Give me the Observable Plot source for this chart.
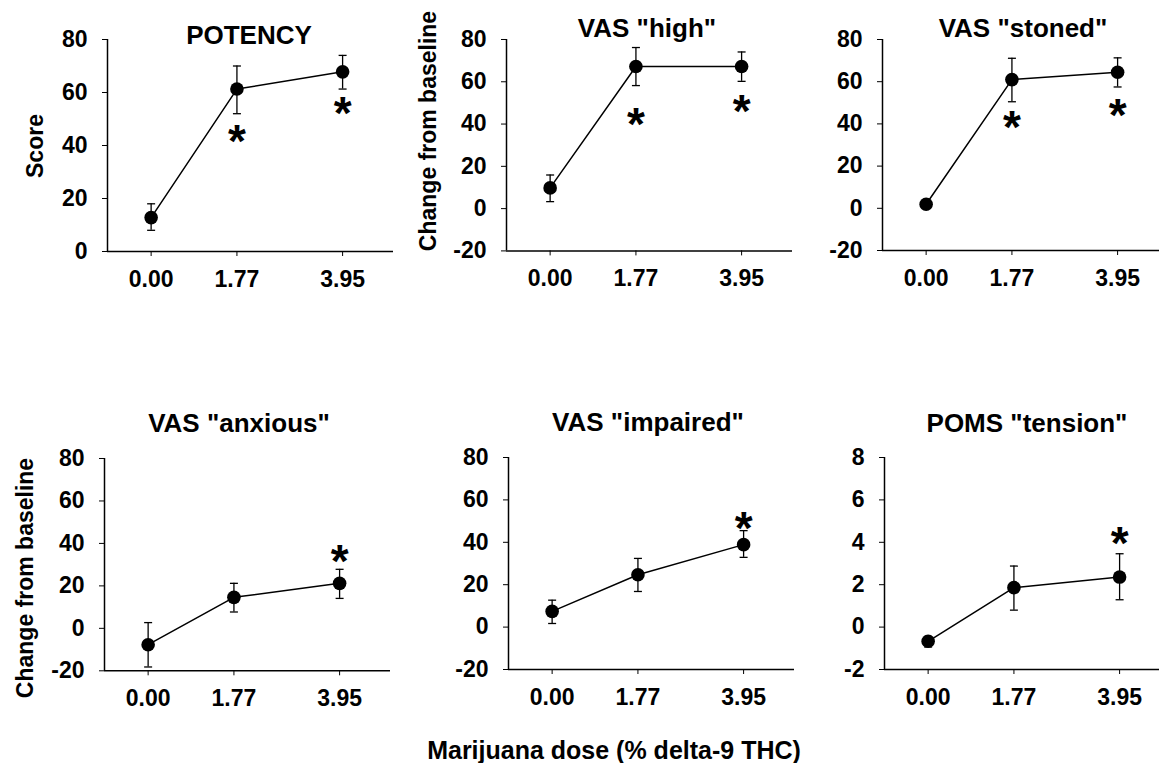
<!DOCTYPE html>
<html>
<head>
<meta charset="utf-8">
<script src="https://cdn.jsdelivr.net/npm/d3@7"></script>
<script src="https://cdn.jsdelivr.net/npm/@observablehq/plot@0.6"></script>
<style>
  html, body { margin: 0; padding: 0; background: #fff; }
  #root { position: relative; width: 1159px; height: 763px; overflow: hidden; background: #fff;
          font-family: "Liberation Sans", Arial, Helvetica, sans-serif; font-weight: bold; color: #000; }
  .panel { position: absolute; }
  .lbl { position: absolute; white-space: nowrap; line-height: 1; }
</style>
</head>
<body>
<div id="root"></div>
<script>
// ---- data ----
const doses = [0, 1.77, 3.95];
const doseLabels = ["0.00", "1.77", "3.95"];

const titles = ["POTENCY", 'VAS "high"', 'VAS "stoned"', 'VAS "anxious"', 'VAS "impaired"', 'POMS "tension"'];
const yLabels = ["Score", "Change from baseline", "", "Change from baseline", "", ""];
const xLabel = "Marijuana dose (% delta-9 THC)";

const potencyMean = [12.8, 61.3, 67.8];
const potencyLo   = [8.0, 52.0, 61.3];
const potencyHi   = [18.0, 70.0, 74.0];
const potencyStar = [null, 45.5, 56.0];

const highMean = [9.8, 67.2, 67.2];
const highLo   = [3.3, 58.2, 60.2];
const highHi   = [15.9, 76.2, 74.1];
const highStar = [null, 44.6, 50.9];

const stonedMean = [1.9, 61.0, 64.5];
const stonedLo   = [1.4, 50.5, 57.5];
const stonedHi   = [2.4, 71.1, 71.3];
const stonedStar = [null, 43.0, 49.0];

const anxiousMean = [-7.7, 14.6, 21.2];
const anxiousLo   = [-18.2, 7.7, 14.1];
const anxiousHi   = [2.7, 21.2, 27.8];
const anxiousStar = [null, null, 36.3];

const impairedMean = [7.4, 24.7, 38.9];
const impairedLo   = [1.7, 16.8, 32.9];
const impairedHi   = [12.7, 32.4, 45.5];
const impairedStar = [null, null, 51.4];

const tensionMean = [-0.67, 1.86, 2.36];
const tensionLo   = [-0.94, 0.80, 1.29];
const tensionHi   = [-0.44, 2.88, 3.46];
const tensionStar = [null, null, 4.43];

const yTicks100 = [-20, 0, 20, 40, 60, 80];
const yTicksPot = [0, 20, 40, 60, 80];
const yTicksTension = [-2, 0, 2, 4, 6, 8];

// ---- layout ----
const FONT = '"Liberation Sans", Arial, Helvetica, sans-serif';
const ML = 80, MR = 4, MT = 20, MB = 45, PW = 286;
const xDomain = [-0.9, 5.0];

const series = [
  {mean: potencyMean, lo: potencyLo, hi: potencyHi, star: potencyStar, ticks: yTicksPot},
  {mean: highMean, lo: highLo, hi: highHi, star: highStar, ticks: yTicks100},
  {mean: stonedMean, lo: stonedLo, hi: stonedHi, star: stonedStar, ticks: yTicks100},
  {mean: anxiousMean, lo: anxiousLo, hi: anxiousHi, star: anxiousStar, ticks: yTicks100},
  {mean: impairedMean, lo: impairedLo, hi: impairedHi, star: impairedStar, ticks: yTicks100},
  {mean: tensionMean, lo: tensionLo, hi: tensionHi, star: tensionStar, ticks: yTicksTension}
];

const layout = [
  {L: 107, T: 39,    H: 212,   title: [249, 35],  ylab: [35, 146]},
  {L: 506, T: 39.3,  H: 211.4, title: [647, 28],  ylab: [428, 131]},
  {L: 882, T: 39,    H: 211,   title: [1023, 28], ylab: null},
  {L: 104, T: 457.7, H: 212.3, title: [239, 423], ylab: [25, 578]},
  {L: 508, T: 456.7, H: 212,   title: [648, 422], ylab: null},
  {L: 884, T: 456.7, H: 212,   title: [1027, 423], ylab: null}
];

const capSymbol = {
  draw(context, size) {
    const w = Math.sqrt(size / Math.PI);
    context.moveTo(-w, 0);
    context.lineTo(w, 0);
  }
};

const root = document.getElementById("root");

series.forEach((s, k) => {
  const lay = layout[k];
  const rows = doses.map((d, i) => ({dose: d, mean: s.mean[i], lo: s.lo[i], hi: s.hi[i], star: s.star[i]}));
  const stars = rows.filter(r => r.star != null);
  const yDomain = [s.ticks[0], s.ticks[s.ticks.length - 1]];
  const chart = Plot.plot({
    width: ML + PW + MR,
    height: MT + lay.H + MB,
    marginLeft: ML, marginRight: MR, marginTop: MT, marginBottom: MB,
    style: {fontFamily: FONT, fontSize: "23px", fontWeight: "bold", color: "#000", background: "transparent", overflow: "visible"},
    x: {domain: xDomain, ticks: doses, tickFormat: d => doseLabels[doses.indexOf(d)], tickSize: 5, tickPadding: 14, label: null},
    y: {domain: yDomain, ticks: s.ticks, tickFormat: d => String(d), tickSize: 5, tickPadding: 15, label: null},
    marks: [
      Plot.ruleX([xDomain[0]], {stroke: "#000", strokeWidth: 1.5}),
      Plot.ruleY([yDomain[0]], {stroke: "#000", strokeWidth: 1.5}),
      Plot.ruleX(rows, {x: "dose", y1: "lo", y2: "hi", stroke: "#000", strokeWidth: 1.3}),
      Plot.dot(rows, {x: "dose", y: "lo", symbol: capSymbol, r: 4, stroke: "#000", strokeWidth: 1.3, fill: "none"}),
      Plot.dot(rows, {x: "dose", y: "hi", symbol: capSymbol, r: 4, stroke: "#000", strokeWidth: 1.3, fill: "none"}),
      Plot.line(rows, {x: "dose", y: "mean", stroke: "#000", strokeWidth: 1.5}),
      Plot.dot(rows, {x: "dose", y: "mean", r: 6.8, fill: "#000", stroke: "none"}),
      Plot.text(stars, {x: "dose", y: "star", text: () => "*", fontSize: 46, fontWeight: "bold", fill: "#000", dy: 11})
    ]
  });
  chart.classList.add("panel");
  chart.style.left = (lay.L - ML) + "px";
  chart.style.top = (lay.T - MT) + "px";
  root.appendChild(chart);

  const t = document.createElement("div");
  t.className = "lbl";
  t.textContent = titles[k];
  t.style.fontSize = "26px";
  t.style.left = lay.title[0] + "px";
  t.style.top = lay.title[1] + "px";
  t.style.transform = "translate(-50%, -50%)";
  root.appendChild(t);

  if (lay.ylab) {
    const y = document.createElement("div");
    y.className = "lbl";
    y.textContent = yLabels[k];
    y.style.fontSize = "23px";
    y.style.left = lay.ylab[0] + "px";
    y.style.top = lay.ylab[1] + "px";
    y.style.transform = "translate(-50%, -50%) rotate(-90deg)";
    root.appendChild(y);
  }
});

const xl = document.createElement("div");
xl.className = "lbl";
xl.textContent = xLabel;
xl.style.fontSize = "25px";
xl.style.left = "614px";
xl.style.top = "750px";
xl.style.transform = "translate(-50%, -50%)";
root.appendChild(xl);
</script>
</body>
</html>
